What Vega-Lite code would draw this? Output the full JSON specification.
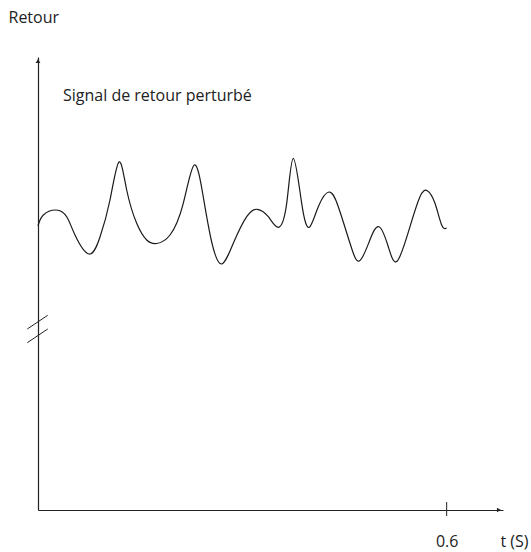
{
  "$schema": "https://vega.github.io/schema/vega-lite/v6.json",
  "width": 465,
  "height": 453,
  "autosize": {"type": "none"},
  "padding": {"left": 38, "top": 57, "right": 28, "bottom": 42},
  "background": "white",
  "config": {"view": {"stroke": null}, "font": "Open Sans"},
  "datasets": {
    "signal": [
      {"t": 0.0, "v": 284}, {"t": 0.00778, "v": 295}, {"t": 0.02643, "v": 300}, {"t": 0.04213, "v": 293.3},
      {"t": 0.05432, "v": 275}, {"t": 0.07487, "v": 256}, {"t": 0.09102, "v": 273}, {"t": 0.1057, "v": 310},
      {"t": 0.11892, "v": 348},
      {"t": 0.13022, "v": 320}, {"t": 0.1449, "v": 286.7}, {"t": 0.15958, "v": 270}, {"t": 0.17426, "v": 266.5},
      {"t": 0.19379, "v": 275}, {"t": 0.21331, "v": 306.7}, {"t": 0.22946, "v": 345},
      {"t": 0.24268, "v": 313}, {"t": 0.25501, "v": 268}, {"t": 0.2694, "v": 246}, {"t": 0.28672, "v": 266.7},
      {"t": 0.30639, "v": 293.3}, {"t": 0.32195, "v": 300.7}, {"t": 0.3381, "v": 293.3}, {"t": 0.35278, "v": 282.7},
      {"t": 0.36512, "v": 306.7}, {"t": 0.37481, "v": 351.7},
      {"t": 0.38714, "v": 306.7}, {"t": 0.3983, "v": 282.7}, {"t": 0.41151, "v": 303.3}, {"t": 0.42722, "v": 318},
      {"t": 0.44087, "v": 303.3}, {"t": 0.45805, "v": 266.7}, {"t": 0.4717, "v": 249}, {"t": 0.48668, "v": 269},
      {"t": 0.50062, "v": 283.3}, {"t": 0.51428, "v": 263.3}, {"t": 0.52749, "v": 249}, {"t": 0.54613, "v": 283.3},
      {"t": 0.56081, "v": 313.3}, {"t": 0.57153, "v": 319.3}, {"t": 0.58284, "v": 306.7}, {"t": 0.59267, "v": 285},
      {"t": 0.6, "v": 282}
    ],
    "breaks": [
      {"t1": -0.0157, "t2": 0.0142, "v1": 167.3, "v2": 181},
      {"t1": -0.0157, "t2": 0.0142, "v1": 181, "v2": 194.7}
    ],
    "tick": [{"t": 0.6, "v1": -6, "v2": 8}],
    "arrows": [
      {"t": 0, "v": 449, "shape": "triangle-up"},
      {"t": 0.6768, "v": 0, "shape": "triangle-right"}
    ],
    "label": [{"t": 0.0367, "v": 414, "text": "Signal de retour perturbé"}]
  },
  "encoding": {
    "x": {"type": "quantitative", "scale": {"domain": [0, 0.6827], "nice": false, "zero": false}},
    "y": {"type": "quantitative", "scale": {"domain": [0, 453], "nice": false, "zero": false}}
  },
  "layer": [
    {
      "data": {"name": "signal"},
      "mark": {"type": "line", "interpolate": "natural", "color": "#1a1a1a", "strokeWidth": 1.2},
      "encoding": {
        "x": {"field": "t", "type": "quantitative",
          "axis": {"values": [0.6], "format": ".1f", "ticks": false, "tickSize": 0, "labelPadding": 23, "labelFontSize": 16, "labelColor": "#222", "labelFont": "Open Sans",
            "domainColor": "#222", "domainWidth": 1.2, "grid": false, "title": "t (S)", "titleFontWeight": "normal", "titleFontSize": 16, "titleColor": "#222", "titleFont": "Open Sans",
            "titleX": 476, "titleY": 31, "titleAlign": "center", "titleBaseline": "middle", "titleAnchor": null}},
        "y": {"field": "v", "type": "quantitative",
          "axis": {"ticks": false, "labels": false, "domainColor": "#222", "domainWidth": 1.2, "grid": false,
            "title": "Retour", "titleAngle": 0, "titleAlign": "left", "titleBaseline": "middle", "titleX": -30, "titleY": -40,
            "titleFontWeight": "normal", "titleFontSize": 16, "titleColor": "#222", "titleFont": "Open Sans"}}
      }
    },
    {
      "data": {"name": "breaks"},
      "mark": {"type": "rule", "color": "#222", "strokeWidth": 1},
      "encoding": {
        "x": {"field": "t1", "type": "quantitative"},
        "x2": {"field": "t2"},
        "y": {"field": "v1", "type": "quantitative"},
        "y2": {"field": "v2"}
      }
    },
    {
      "data": {"name": "tick"},
      "mark": {"type": "rule", "color": "#222", "strokeWidth": 1},
      "encoding": {
        "x": {"field": "t", "type": "quantitative"},
        "y": {"field": "v1", "type": "quantitative"},
        "y2": {"field": "v2"}
      }
    },
    {
      "data": {"name": "arrows"},
      "mark": {"type": "point", "filled": true, "color": "#222", "size": 22, "opacity": 1},
      "encoding": {
        "x": {"field": "t", "type": "quantitative"},
        "y": {"field": "v", "type": "quantitative"},
        "shape": {"field": "shape", "type": "nominal", "scale": null, "legend": null}
      }
    },
    {
      "data": {"name": "label"},
      "mark": {"type": "text", "align": "left", "baseline": "middle", "fontSize": 16, "color": "#222", "font": "Open Sans"},
      "encoding": {
        "x": {"field": "t", "type": "quantitative"},
        "y": {"field": "v", "type": "quantitative"},
        "text": {"field": "text"}
      }
    }
  ]
}
